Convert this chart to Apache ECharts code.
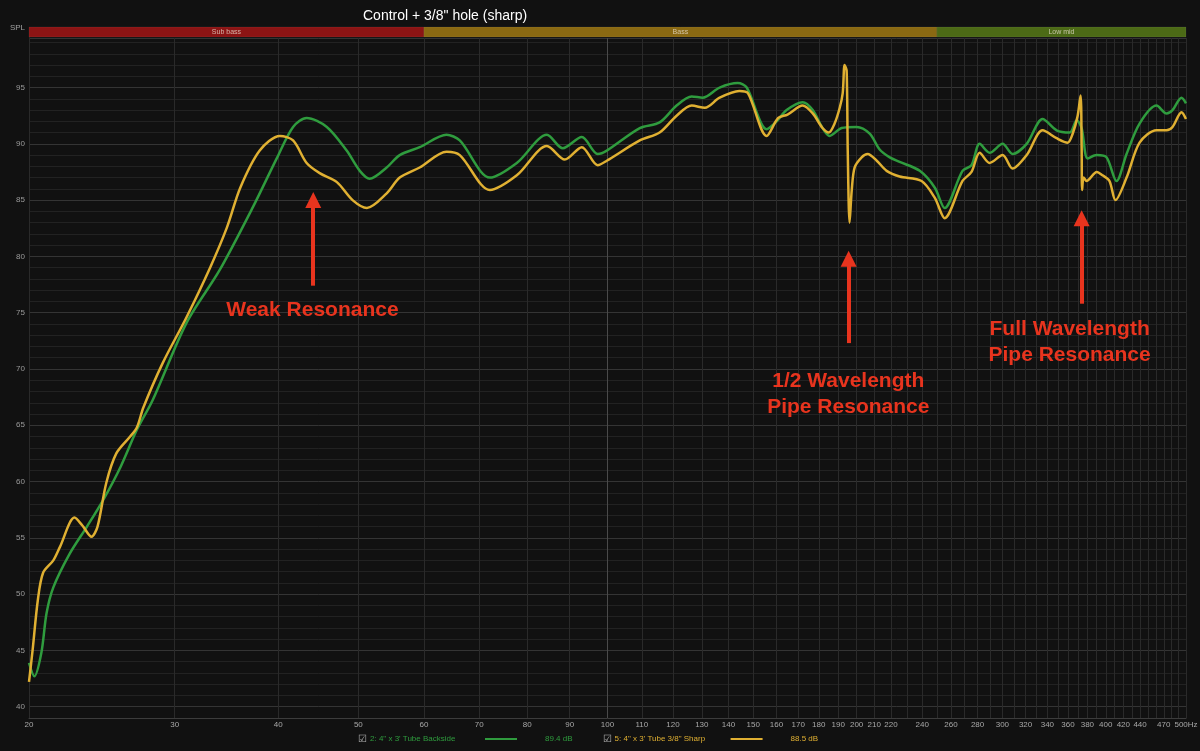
<!DOCTYPE html>
<html><head><meta charset="utf-8">
<script src="https://cdn.jsdelivr.net/npm/echarts@6/dist/echarts.min.js"></script>
<style>html,body{margin:0;padding:0;background:#111111;}#c{width:1200px;height:751px;}</style>
</head><body><div id="c"></div>
<script>
const chartTitle = 'Control + 3/8" hole (sharp)';

const greenFreq = [20, 20.3, 20.7, 21.0, 21.4, 22.4, 23.5, 24.6, 25.8, 27.0, 28.2, 31.0, 34.0, 37.3, 39.9, 41.7, 43.3, 45.8, 48.4, 50.2, 51.6, 54.1, 56.1, 59.3, 63.9, 66.3, 72.1, 77.7, 84.5, 88.3, 93.1, 97.3, 99.8, 109.4, 115.6, 121.2, 126.4, 130.3, 136.6, 143.7, 147.3, 155.7, 160.1, 164.6, 172.1, 177.0, 181.9, 185.5, 191.8, 200, 207.4, 213.2, 219.3, 225.4, 238.4, 248.6, 255.5, 268.5, 275.3, 281.6, 289.5, 300.2, 308.6, 321.0, 335.5, 348.8, 361.7, 368.9, 374.0, 380.3, 390.0, 400.8, 412.1, 423.8, 439.4, 460.6, 473.6, 481.6, 493.8, 500];
const greenSpl = [43.9, 42.7, 44.8, 48.3, 50.6, 53.6, 56.0, 58.4, 61.3, 64.6, 67.2, 74.1, 78.8, 84.4, 88.8, 91.5, 92.3, 91.5, 89.4, 87.6, 86.9, 87.9, 89.0, 89.7, 90.8, 90.3, 87.0, 88.3, 90.8, 89.6, 90.6, 89.1, 89.4, 91.4, 91.9, 93.4, 94.2, 94.1, 95.0, 95.4, 95.0, 91.3, 92.0, 93.0, 93.7, 93.0, 91.4, 90.7, 91.4, 91.5, 90.9, 89.5, 88.8, 88.4, 87.6, 86.1, 84.3, 87.6, 88.1, 90.0, 89.2, 90.0, 89.1, 90.0, 92.2, 91.2, 91.0, 92.1, 91.4, 88.7, 89.0, 88.8, 86.7, 89.1, 91.8, 93.4, 92.7, 93.0, 94.1, 93.6];

const yellowFreq = [20, 20.2, 20.5, 20.8, 21.4, 21.8, 22.7, 23.2, 23.8, 24.2, 24.8, 25.5, 26.5, 27.0, 27.5, 29.0, 31.0, 33.1, 34.7, 36.0, 38.0, 40.2, 41.7, 43.3, 44.9, 47.1, 49.2, 51.2, 54.1, 56.1, 59.3, 63.9, 66.3, 72.1, 77.7, 84.5, 88.8, 93.1, 97.3, 99.8, 109.4, 115.6, 121.2, 126.4, 131.1, 136.6, 144.3, 147.8, 155.7, 160.8, 165.0, 172.1, 177.0, 181.9, 185.1, 188.1, 190.8, 192.4, 193.4, 194.5, 195.1, 196.1, 197.3, 198.9, 202.8, 206.2, 211.5, 217.4, 225.4, 239.6, 248.6, 255.5, 268.5, 275.3, 281.6, 289.5, 300.2, 308.6, 321.0, 335.5, 348.8, 359.7, 364.8, 369.9, 372.9, 374.0, 374.5, 376.1, 379.3, 382.4, 390.0, 396.5, 404.1, 410.9, 423.8, 439.4, 460.6, 473.6, 481.6, 493.8, 500];
const yellowSpl = [42.2, 45.0, 49.5, 51.9, 53.0, 54.2, 56.8, 56.1, 55.1, 56.0, 59.9, 62.5, 64.0, 64.8, 66.6, 70.5, 74.6, 79.0, 82.6, 86.1, 89.4, 90.7, 90.3, 88.3, 87.4, 86.6, 85.0, 84.3, 85.6, 87.0, 87.9, 89.3, 89.0, 85.9, 87.2, 89.8, 88.6, 89.7, 88.1, 88.5, 90.3, 91.0, 92.5, 93.4, 93.2, 94.1, 94.7, 94.5, 90.7, 92.3, 92.6, 93.4, 92.7, 91.4, 91.0, 91.8, 93.2, 94.5, 97.0, 96.5, 89.4, 83.0, 85.9, 87.9, 88.8, 89.1, 88.5, 87.6, 87.1, 86.7, 85.2, 83.4, 86.7, 87.5, 89.2, 88.3, 89.0, 87.8, 89.0, 91.2, 90.5, 90.1, 90.9, 92.5, 94.3, 89.7, 85.9, 87.0, 86.7, 86.9, 87.5, 87.2, 86.7, 85.0, 87.0, 90.1, 91.2, 91.2, 91.5, 92.8, 92.2];

const seriesNames = ['2: 4" x 3\' Tube Backside', '5: 4" x 3\' Tube 3/8" Sharp'];
const seriesLevels = ['89.4 dB', '88.5 dB'];
const seriesColors = ['#2f9c3e', '#e0b032'];

const xTickLabels = [20, 30, 40, 50, 60, 70, 80, 90, 100, 110, 120, 130, 140, 150, 160, 170, 180, 190, 200, 210, 220, 240, 260, 280, 300, 320, 340, 360, 380, 400, 420, 440, 470, 500];
const gridFreqs = [];
for (let f = 20; f <= 500; f += 10) gridFreqs.push(f);

const bandNames = ['Sub bass', 'Bass', 'Low mid'];
const bandEdges = [[20, 60], [60, 250], [250, 500]];
const bandColors = ['#8c1414', '#8a6912', '#4c6a16'];

const noteTexts = ['Weak Resonance', '1/2 Wavelength\nPipe Resonance', 'Full Wavelength\nPipe Resonance'];
const noteTextPos = [[44.0, 75.2], [195.4, 67.8], [361.7, 72.4]];
const arrowFreq = [44.1, 195.6, 374.0];
const arrowFrom = [77.4, 72.3, 75.8];
const arrowTo = [85.0, 79.8, 83.4];

const red = '#e8341e';
const toPairs = (fs, vs) => fs.map((f, i) => [f, vs[i]]);

const chart = echarts.init(document.getElementById('c'), null, {renderer: 'canvas'});

const gridLineData = gridFreqs.map(f => ({
  xAxis: f,
  lineStyle: {color: f === 100 ? '#4a4a4a' : '#2a2a2a', width: 1, type: 'solid'},
  label: {show: false}
}));
const tickLabelData = xTickLabels.map((f, i) => ({
  xAxis: f,
  lineStyle: {color: 'rgba(0,0,0,0)', width: 1, type: 'solid'},
  label: {show: true, position: 'start', distance: 3, formatter: (i === xTickLabels.length - 1 ? f + 'Hz' : String(f)), color: '#a8a8a8', fontSize: 8, fontFamily: 'Liberation Sans'}
}));

const option = {
  animation: false,
  backgroundColor: '#111111',
  title: {
    text: chartTitle, left: 358, top: 4,
    textStyle: {color: '#ffffff', fontSize: 14, fontWeight: 'normal', fontFamily: 'Liberation Sans'}
  },
  legend: {
    left: 348, bottom: 2, itemWidth: 0, itemHeight: 0, itemGap: 25, icon: 'none',
    selectedMode: false,
    data: seriesNames,
    formatter: name => {
      const i = seriesNames.indexOf(name);
      const k = i === 0 ? 'g' : 'y';
      return '{cb|☑}{' + k + 'n|' + name + '}{' + k + 'l|\u00a0}{' + k + 'v|' + seriesLevels[i] + '}';
    },
    textStyle: {
      fontFamily: 'Liberation Sans',
      rich: {
        cb: {color: '#b0b0b0', fontSize: 10, width: 12},
        gn: {color: seriesColors[0], fontSize: 8, width: 115},
        gl: {backgroundColor: seriesColors[0], width: 32, height: 2, fontSize: 2},
        gv: {color: seriesColors[0], fontSize: 8, padding: [0, 0, 0, 28]},
        yn: {color: seriesColors[1], fontSize: 8, width: 116},
        yl: {backgroundColor: seriesColors[1], width: 32, height: 2, fontSize: 2},
        yv: {color: seriesColors[1], fontSize: 8, padding: [0, 0, 0, 28]}
      }
    }
  },
  grid: [
    {left: 29, right: 14, top: 38, bottom: 33},
    {left: 29, right: 14, top: 27, height: 10}
  ],
  xAxis: [
    {
      type: 'log', logBase: 10, min: 20, max: 500, gridIndex: 0,
      axisLine: {show: true, onZero: false, lineStyle: {color: '#3c3c3c'}},
      axisTick: {show: false}, axisLabel: {show: false}, splitLine: {show: false}
    },
    {
      type: 'log', logBase: 10, min: 20, max: 500, gridIndex: 1, show: false,
      splitLine: {show: false}
    }
  ],
  yAxis: [
    {
      type: 'value', min: 39, max: 99.4, interval: 1, gridIndex: 0,
      name: 'SPL', nameLocation: 'end', nameGap: 6,
      nameTextStyle: {color: '#a0a0a0', fontSize: 8, align: 'right', padding: [0, 4, 0, 0], fontFamily: 'Liberation Sans'},
      axisLine: {show: true, lineStyle: {color: '#3c3c3c'}},
      axisTick: {show: false},
      axisLabel: {
        color: '#9a9a9a', fontSize: 8, margin: 4, fontFamily: 'Liberation Sans',
        formatter: v => (Math.abs(v % 5) < 1e-6 ? String(v) : '')
      },
      splitLine: {show: true, lineStyle: {color: ['#222222', '#343434', '#222222', '#222222', '#222222'], width: 1}}
    },
    {type: 'value', min: 0, max: 1, gridIndex: 1, show: false, splitLine: {show: false}}
  ],
  series: [
    {
      name: 'gridlines', type: 'line', xAxisIndex: 0, yAxisIndex: 0, z: 1,
      data: [[20, 39]], showSymbol: false, symbol: 'none', lineStyle: {width: 0}, silent: true,
      legendHoverLink: false,
      markLine: {
        silent: true, symbol: 'none', z: 1, animation: false,
        data: gridLineData.concat(tickLabelData)
      }
    },
    {
      name: 'bands', type: 'line', xAxisIndex: 1, yAxisIndex: 1, z: 1,
      data: [[20, 0]], showSymbol: false, symbol: 'none', lineStyle: {width: 0}, silent: true,
      markArea: {
        silent: true, z: 1,
        data: bandNames.map((n, i) => [
          {name: n, xAxis: bandEdges[i][0], yAxis: 0, itemStyle: {color: bandColors[i], borderColor: 'rgba(255,255,255,0.12)', borderWidth: 0.5},
           label: {show: true, position: 'inside', color: 'rgba(235,225,210,0.75)', fontSize: 7, fontFamily: 'Liberation Sans'}},
          {xAxis: bandEdges[i][1], yAxis: 1}
        ])
      }
    },
    {
      name: seriesNames[0], type: 'line', xAxisIndex: 0, yAxisIndex: 0, z: 3,
      data: toPairs(greenFreq, greenSpl),
      smooth: 0.3, showSymbol: false, symbol: 'none',
      lineStyle: {color: seriesColors[0], width: 2.5}, itemStyle: {color: seriesColors[0]}
    },
    {
      name: seriesNames[1], type: 'line', xAxisIndex: 0, yAxisIndex: 0, z: 4,
      data: toPairs(yellowFreq, yellowSpl),
      smooth: 0.3, showSymbol: false, symbol: 'none',
      lineStyle: {color: seriesColors[1], width: 2.5}, itemStyle: {color: seriesColors[1]}
    },
    {
      name: 'notes', type: 'line', xAxisIndex: 0, yAxisIndex: 0, z: 10,
      data: [[20, 39]], showSymbol: false, symbol: 'none', lineStyle: {width: 0}, silent: true,
      markLine: {
        silent: true, z: 10, symbol: ['none', 'triangle'], symbolSize: 16,
        lineStyle: {color: red, width: 4, type: 'solid'},
        itemStyle: {color: red},
        label: {show: false},
        data: arrowFreq.map((f, i) => [
          {coord: [f, arrowFrom[i]], lineStyle: {color: red, width: 4, type: 'solid'}, itemStyle: {color: red}},
          {coord: [f, arrowTo[i]], itemStyle: {color: red}}
        ])
      },
      markPoint: {
        silent: true, z: 10, symbol: 'circle', symbolSize: 0,
        itemStyle: {color: 'rgba(0,0,0,0)'},
        data: noteTexts.map((t, i) => ({
          coord: noteTextPos[i],
          label: {show: true, position: 'inside', formatter: t, color: red, fontSize: 21, fontWeight: 'bold',
                  lineHeight: 26, align: 'center', fontFamily: 'Liberation Sans'}
        }))
      }
    }
  ]
};
chart.setOption(option);
</script>
</body></html>
